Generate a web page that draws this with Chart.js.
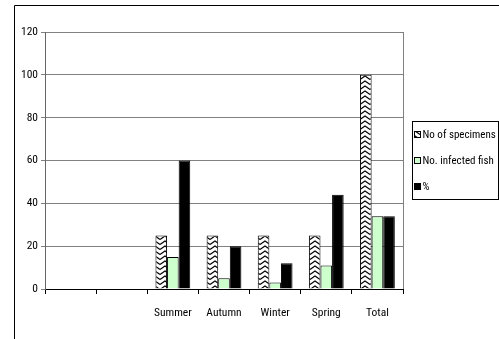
<!DOCTYPE html>
<html>
<head>
<meta charset="utf-8">
<script src="https://cdn.jsdelivr.net/npm/chart.js@4/dist/chart.umd.min.js"></script>
<style>
  html, body { margin: 0; padding: 0; background: #fff; }
  #wrap { width: 499px; height: 339px; position: relative; }
</style>
</head>
<body>
<div id="wrap"><canvas id="c" width="499" height="339"></canvas></div>
<script>
// Seasonal sampling: specimens examined, infected fish and infection rate (%)
const categories = ['', '', 'Summer', 'Autumn', 'Winter', 'Spring', 'Total'];
const specimens  = [null, null, 25, 25, 25, 25, 100];
const infected   = [null, null, 15, 5, 3, 11, 34];
const percent    = [null, null, 60, 20, 12, 44, 34];
const seriesNames = ['No of specimens', 'No. infected fish', '%'];
const yTicks = [0, 20, 40, 60, 80, 100, 120];

const FONT = "'Roboto Condensed', 'Liberation Sans', Arial, sans-serif";
const FONT_SIZE = 11.5;
const LEGEND_SIZE = 11;

// white tile with a black chevron stroke, used as the fill of the specimens bars
function chevronPattern() {
  const t = document.createElement('canvas');
  t.width = 10; t.height = 5;
  const g = t.getContext('2d');
  g.fillStyle = '#fff';
  g.fillRect(0, 0, 10, 5);
  g.strokeStyle = '#000';
  g.lineWidth = 1.1;
  g.beginPath();
  g.moveTo(0, 4.5); g.lineTo(5, 1); g.lineTo(10, 4.5);
  g.stroke();
  return g.createPattern(t, 'repeat');
}
const ctx = document.getElementById('c').getContext('2d');
const pat = chevronPattern();

// outer frame, plot-area right edge and the legend box
const decor = {
  id: 'decor',
  beforeDraw(chart) {
    const c = chart.ctx;
    c.save();
    c.fillStyle = '#fff';
    c.fillRect(0, 0, chart.width, chart.height);
    c.restore();
  },
  afterDraw(chart) {
    const c = chart.ctx;
    const a = chart.chartArea;
    c.save();
    // chart frame
    c.strokeStyle = '#000';
    c.lineWidth = 1;
    c.beginPath();
    c.moveTo(14.5, chart.height);
    c.lineTo(14.5, 5.5);
    c.lineTo(chart.width, 5.5);
    c.stroke();
    // right edge of plot area
    c.strokeStyle = '#808080';
    c.beginPath();
    c.moveTo(Math.round(a.right) + 0.5, a.top);
    c.lineTo(Math.round(a.right) + 0.5, a.bottom);
    c.stroke();
    // legend box
    c.strokeStyle = '#000';
    c.strokeRect(412.5, 121.5, 86, 78);
    c.font = LEGEND_SIZE + 'px ' + FONT;
    c.textBaseline = 'middle';
    chart.data.datasets.forEach((d, i) => {
      const y = 135 + i * 26;
      c.fillStyle = d.backgroundColor;
      c.fillRect(414.5, y - 3.5, 6, 6);
      c.strokeStyle = '#000';
      c.strokeRect(414.5, y - 3.5, 6, 6);
      c.fillStyle = '#000';
      c.fillText(d.label, 422.5, y + 0.5);
    });
    c.restore();
  }
};

new Chart(ctx, {
  type: 'bar',
  data: {
    labels: categories,
    datasets: [
      { label: seriesNames[0], data: specimens, backgroundColor: pat, borderColor: '#000', borderWidth: 1 },
      { label: seriesNames[1], data: infected, backgroundColor: '#ccffcc', borderColor: '#000', borderWidth: 1 },
      { label: seriesNames[2], data: percent, backgroundColor: '#000', borderColor: '#000', borderWidth: 1 }
    ]
  },
  plugins: [decor],
  options: {
    responsive: false,
    animation: false,
    events: [],
    layout: { padding: { left: 16, top: 32, right: 96, bottom: 0 } },
    datasets: { bar: { categoryPercentage: 0.68, barPercentage: 1.0 } },
    plugins: { legend: { display: false }, tooltip: { enabled: false } },
    scales: {
      x: {
        offset: true,
        grid: { offset: true, drawOnChartArea: false, drawTicks: true, tickLength: 5, color: '#000' },
        border: { color: '#000', width: 1 },
        ticks: { color: '#000', font: { family: FONT, size: FONT_SIZE }, padding: 12, maxRotation: 0, autoSkip: false },
        afterFit(s) { s.height = 50; }
      },
      y: {
        min: 0, max: 120,
        afterBuildTicks(s) { s.ticks = yTicks.map(v => ({ value: v })); },
        grid: { color: '#808080', drawTicks: true, tickLength: 4 },
        border: { color: '#666', width: 1 },
        ticks: { color: '#000', font: { family: FONT, size: FONT_SIZE }, padding: 3 },
        afterFit(s) { s.width = 29; }
      }
    }
  }
});
</script>
</body>
</html>
